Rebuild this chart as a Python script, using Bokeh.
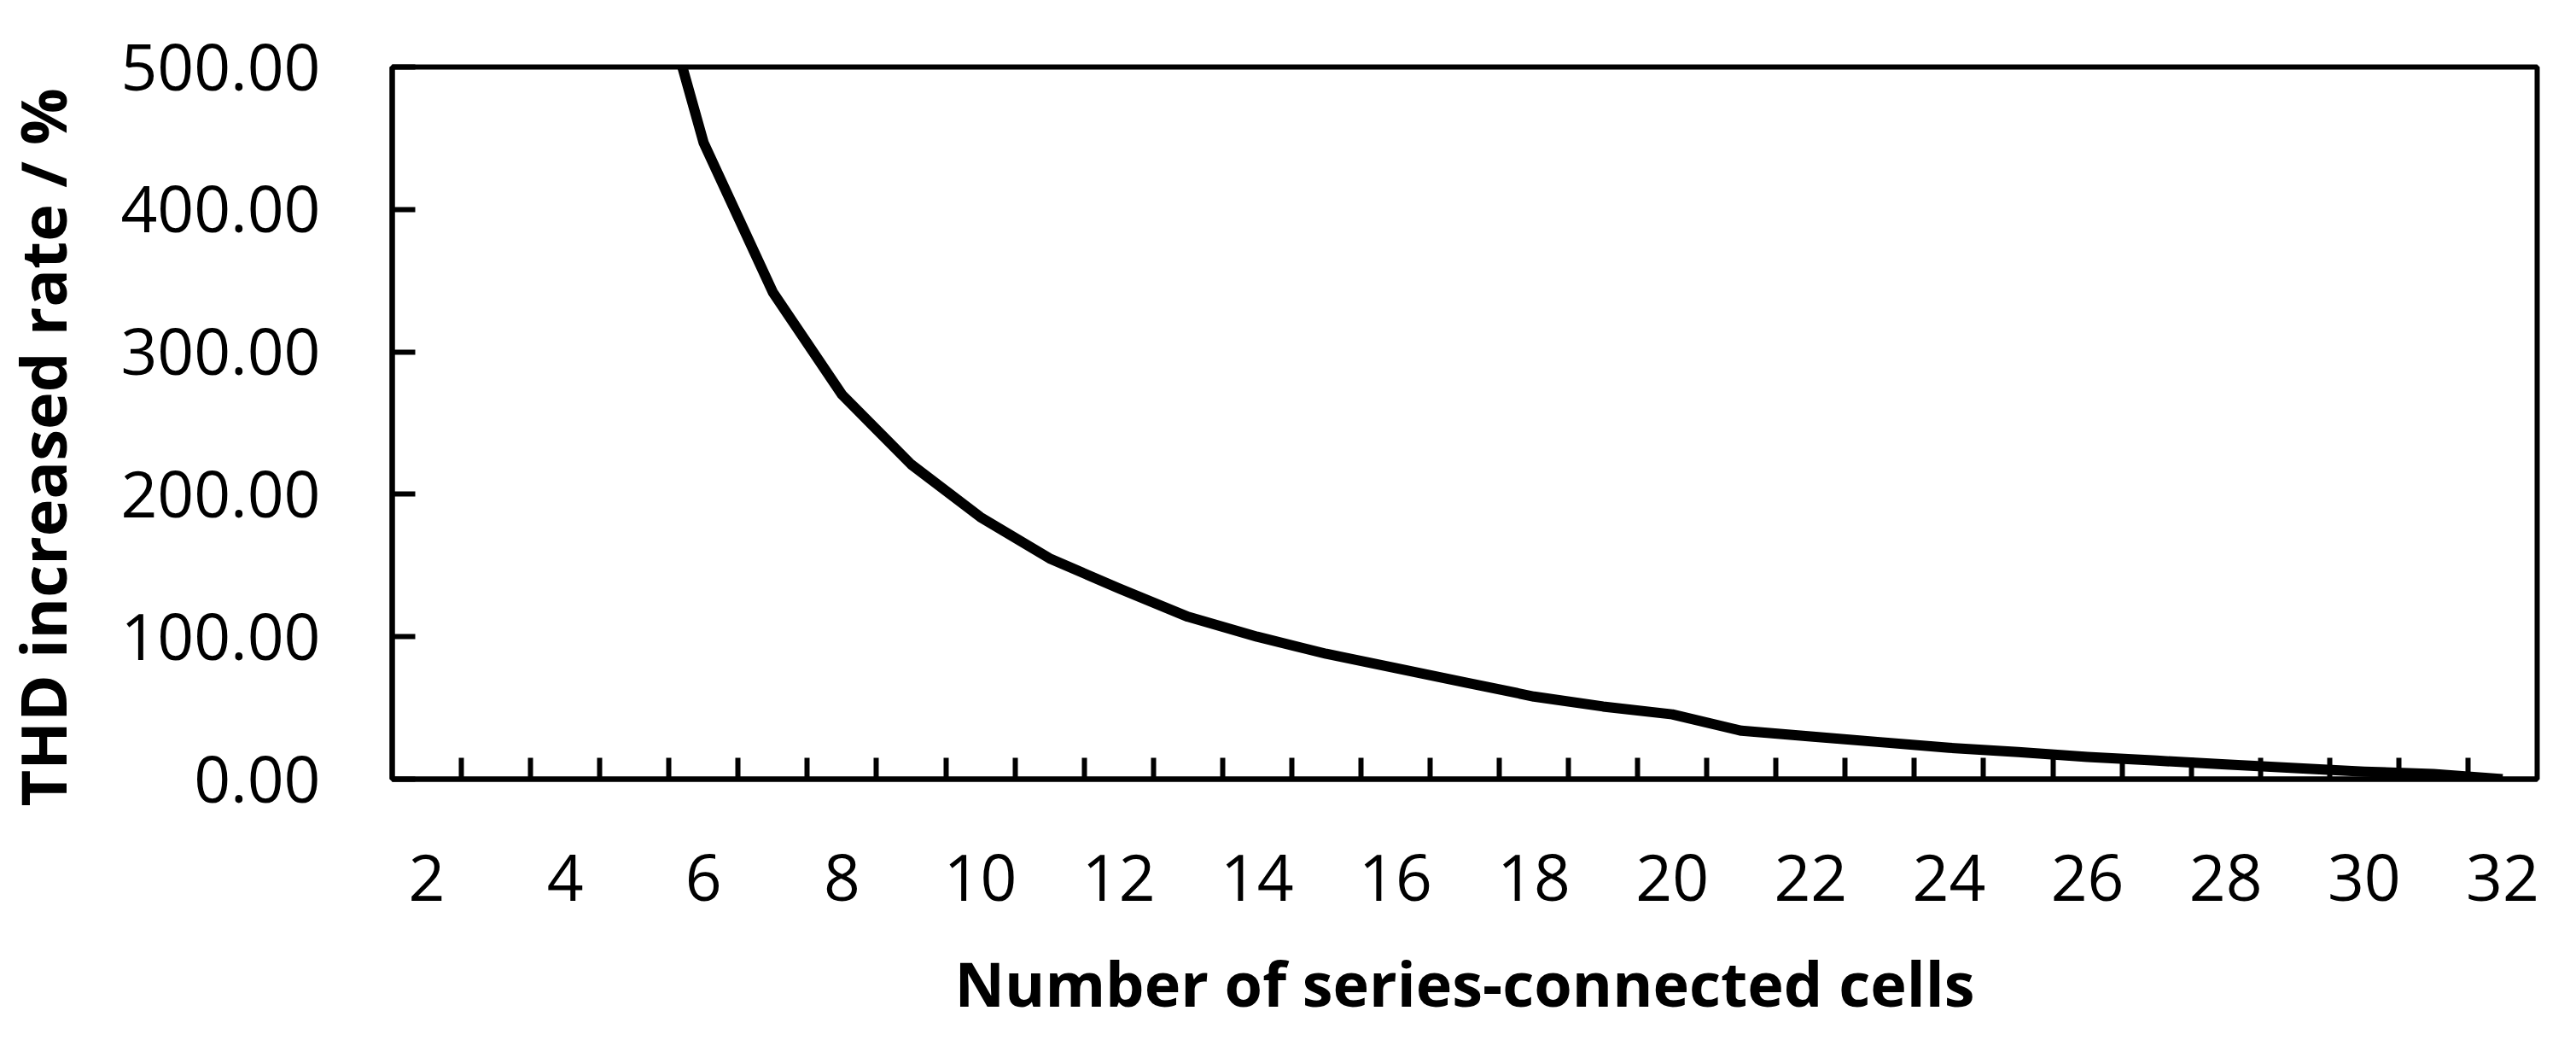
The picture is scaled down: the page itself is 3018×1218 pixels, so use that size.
from bokeh.plotting import figure
from bokeh.models import Range1d, FixedTicker, PrintfTickFormatter, Title
from bokeh.embed import file_html
from bokeh.resources import INLINE

# Data
cells = list(range(2, 33))
thd_rate = [1600, 1050, 780, 620, 447, 342, 270, 221, 184, 155, 134, 114, 100,
            88, 78, 68, 58, 51, 45.5, 34, 30, 26, 22, 19, 15.6, 13, 10.4, 7.8,
            5.3, 3.6, 0]
x_tick_labels = list(range(2, 33, 2))
y_ticks = [0, 100, 200, 300, 400, 500]

x_title = "Number of series-connected cells"
y_title = "THD increased rate / %"

FONT = "Open Sans"

p = figure(frame_width=2513, frame_height=834,
           min_border_left=460, min_border_right=10,
           min_border_top=78, min_border_bottom=285,
           margin=(0, 0, 0, -43),
           x_range=Range1d(1.5, 32.5), y_range=Range1d(0, 500),
           output_backend="svg", toolbar_location=None,
           background_fill_color="white", border_fill_color="white")

p.line(cells, thd_rate, line_color="black", line_width=12, line_join="round")

p.grid.visible = False
p.outline_line_color = "black"
p.outline_line_width = 6
p.outline_line_alpha = 1

# x axis
xa = p.xaxis[0]
xa.ticker = FixedTicker(ticks=x_tick_labels,
                        minor_ticks=[c + 0.5 for c in cells[:-1]])
xa.axis_line_width = 6
xa.axis_line_color = "black"
xa.major_tick_in = 0
xa.major_tick_out = 0
xa.minor_tick_in = 25
xa.minor_tick_out = 0
xa.minor_tick_line_width = 6
xa.minor_tick_line_color = "black"
xa.major_label_text_font = FONT
xa.major_label_text_font_size = "75px"
xa.major_label_text_color = "black"
xa.major_label_standoff = 88
xa.axis_label = x_title
xa.axis_label_text_font = FONT
xa.axis_label_text_font_style = "bold"
xa.axis_label_text_font_size = "72px"
xa.axis_label_text_color = "black"
xa.axis_label_standoff = 44

# y axis
ya = p.yaxis[0]
ya.ticker = FixedTicker(ticks=y_ticks, minor_ticks=[])
ya.formatter = PrintfTickFormatter(format="%.2f")
ya.axis_line_width = 6
ya.axis_line_color = "black"
ya.major_tick_in = 27
ya.major_tick_out = 0
ya.major_tick_line_width = 6
ya.major_tick_line_color = "black"
ya.minor_tick_in = 0
ya.minor_tick_out = 0
ya.major_label_text_font = FONT
ya.major_label_text_font_size = "75px"
ya.major_label_text_color = "black"
ya.major_label_standoff = 84

# y axis title, as a side title so it can sit slightly below the frame centre
ytitle = Title(text=y_title, align="left", offset=-32,
               vertical_align="bottom", standoff=78,
               text_font=FONT, text_font_style="bold",
               text_font_size="74px", text_color="black")
p.add_layout(ytitle, "left")

open("out.html", "w").write(file_html(p, INLINE))
